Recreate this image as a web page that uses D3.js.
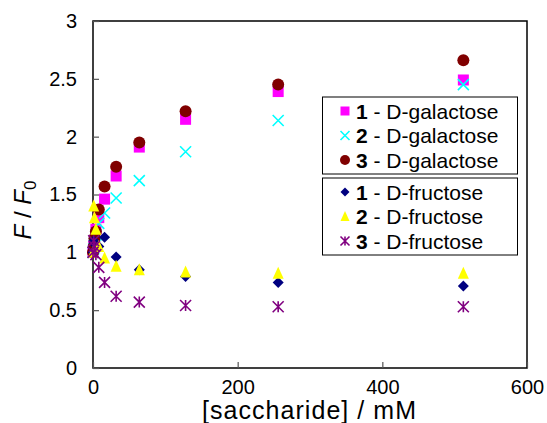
<!DOCTYPE html>
<html>
<head>
<meta charset="utf-8">
<script src="https://d3js.org/d3.v7.min.js"></script>
<style>
body { margin: 0; background: #fff; }
text { font-family: "Liberation Sans", Arial, sans-serif; }
</style>
</head>
<body>
<div id="chart"></div>
<script>
var conc = [0, 1, 2, 4, 8, 16, 32, 64, 128, 256, 512];

var gal1 = [1.0, 1.05, 1.1, 1.2, 1.3, 1.46, 1.66, 1.91, 2.15, 2.39, 2.49];
var gal2 = [1.0, 1.03, 1.08, 1.15, 1.25, 1.34, 1.47, 1.62, 1.87, 2.14, 2.45];
var gal3 = [1.0, 1.05, 1.12, 1.18, 1.37, 1.57, 1.74, 1.95, 2.22, 2.45, 2.66];
var fru1 = [1.0, 1.1, 1.08, 1.06, 1.05, 1.13, 0.96, 0.85, 0.79, 0.74, 0.71];
var fru2 = [1.0, 1.4, 1.3, 1.2, 1.05, 0.95, 0.88, 0.85, 0.83, 0.82, 0.82];
var fru3 = [1.0, 1.1, 1.05, 0.98, 0.87, 0.74, 0.62, 0.57, 0.54, 0.53, 0.53];

var xTicks = [0, 200, 400, 600];
var yTicks = [0, 0.5, 1, 1.5, 2, 2.5, 3];

var series = [
	{ num: "1", name: "D-galactose", values: gal1, color: "#FF00FF", shape: "square" },
	{ num: "2", name: "D-galactose", values: gal2, color: "#00FFFF", shape: "cross" },
	{ num: "3", name: "D-galactose", values: gal3, color: "#800000", shape: "circle" },
	{ num: "1", name: "D-fructose", values: fru1, color: "#000080", shape: "diamond" },
	{ num: "2", name: "D-fructose", values: fru2, color: "#FFFF00", shape: "triangle" },
	{ num: "3", name: "D-fructose", values: fru3, color: "#800080", shape: "star" }
];

var width = 547, height = 423;
var plotL = 93, plotT = 21, plotR = 527, plotB = 368;

var svg = d3.select("#chart").append("svg")
	.attr("width", width)
	.attr("height", height);

var x = d3.scaleLinear().domain([0, 600]).range([plotL, plotR]);
var y = d3.scaleLinear().domain([0, 3]).range([plotB, plotT]);

// frame
svg.append("rect")
	.attr("x", plotL).attr("y", plotT)
	.attr("width", plotR - plotL).attr("height", plotB - plotT)
	.attr("fill", "none").attr("stroke", "#000").attr("stroke-width", 1.5);

// axes with inward ticks
var xAxis = svg.append("g")
	.attr("transform", "translate(0," + plotB + ")")
	.call(d3.axisBottom(x).tickValues(xTicks).tickSizeInner(-6).tickSizeOuter(0).tickPadding(12));
var yAxis = svg.append("g")
	.attr("transform", "translate(" + plotL + ",0)")
	.call(d3.axisLeft(y).tickValues(yTicks).tickSizeInner(-6).tickSizeOuter(0).tickPadding(16)
		.tickFormat(function(d) { return d; }));

[xAxis, yAxis].forEach(function(a) {
	a.select(".domain").remove();
	a.selectAll(".tick line").attr("stroke", "#555").attr("stroke-width", 1.2);
	a.selectAll(".tick text").attr("font-size", 20).attr("fill", "#000")
		.style("font-family", "Liberation Sans, Arial, sans-serif");
});

// axis titles
svg.append("text")
	.attr("x", 309).attr("y", 419)
	.attr("text-anchor", "middle")
	.attr("font-size", 25)
	.attr("textLength", 214)
	.text("[saccharide] / mM");

var yt = svg.append("text")
	.attr("transform", "translate(31,210) rotate(-90)")
	.attr("text-anchor", "middle")
	.attr("font-size", 24);
yt.append("tspan").attr("font-style", "italic").text("F");
yt.append("tspan").text(" / ");
yt.append("tspan").attr("font-style", "italic").text("F");
yt.append("tspan").attr("font-size", 17).attr("dy", 5).text("0");

// marker drawing
function marker(g, shape, color, s) {
	var h = s / 2;
	if (shape == "square") {
		g.append("rect").attr("x", -h).attr("y", -h).attr("width", s).attr("height", s).attr("fill", color);
	} else if (shape == "circle") {
		g.append("circle").attr("r", h + 0.5).attr("fill", color);
	} else if (shape == "diamond") {
		g.append("path").attr("d", "M0," + (-h) + "L" + h + ",0L0," + h + "L" + (-h) + ",0Z").attr("fill", color);
	} else if (shape == "triangle") {
		g.append("path").attr("d", "M0," + (-h - 1) + "L" + h + "," + h + "L" + (-h) + "," + h + "Z").attr("fill", color);
	} else if (shape == "cross") {
		g.append("path").attr("d", "M" + (-h) + "," + (-h) + "L" + h + "," + h + "M" + (-h) + "," + h + "L" + h + "," + (-h))
			.attr("stroke", color).attr("stroke-width", 1.6).attr("fill", "none");
	} else if (shape == "star") {
		g.append("path").attr("d", "M" + (-h) + "," + (-h) + "L" + h + "," + h + "M" + (-h) + "," + h + "L" + h + "," + (-h) + "M0," + (-h) + "L0," + h)
			.attr("stroke", color).attr("stroke-width", 1.6).attr("fill", "none");
	}
}

series.forEach(function(ser) {
	var g = svg.append("g");
	ser.values.forEach(function(v, i) {
		var p = g.append("g").attr("transform", "translate(" + x(conc[i]) + "," + y(v) + ")");
		marker(p, ser.shape, ser.color, 11);
	});
});

// legend boxes
var boxes = [
	{ y0: 97, items: series.slice(0, 3) },
	{ y0: 178, items: series.slice(3, 6) }
];

boxes.forEach(function(b) {
	svg.append("rect")
		.attr("x", 322.5).attr("y", b.y0)
		.attr("width", 195).attr("height", 77)
		.attr("fill", "#fff").attr("stroke", "#000").attr("stroke-width", 1);
	b.items.forEach(function(ser, i) {
		var cy = b.y0 + 14 + i * 24.5;
		var m = svg.append("g").attr("transform", "translate(345," + cy + ")");
		marker(m, ser.shape, ser.color, 9);
		var t = svg.append("text")
			.attr("x", 356).attr("y", cy + 7.5)
			.attr("font-size", 21);
		t.append("tspan").attr("font-weight", "bold").text(ser.num);
		t.append("tspan").text(" - " + ser.name);
	});
});
</script>
</body>
</html>
